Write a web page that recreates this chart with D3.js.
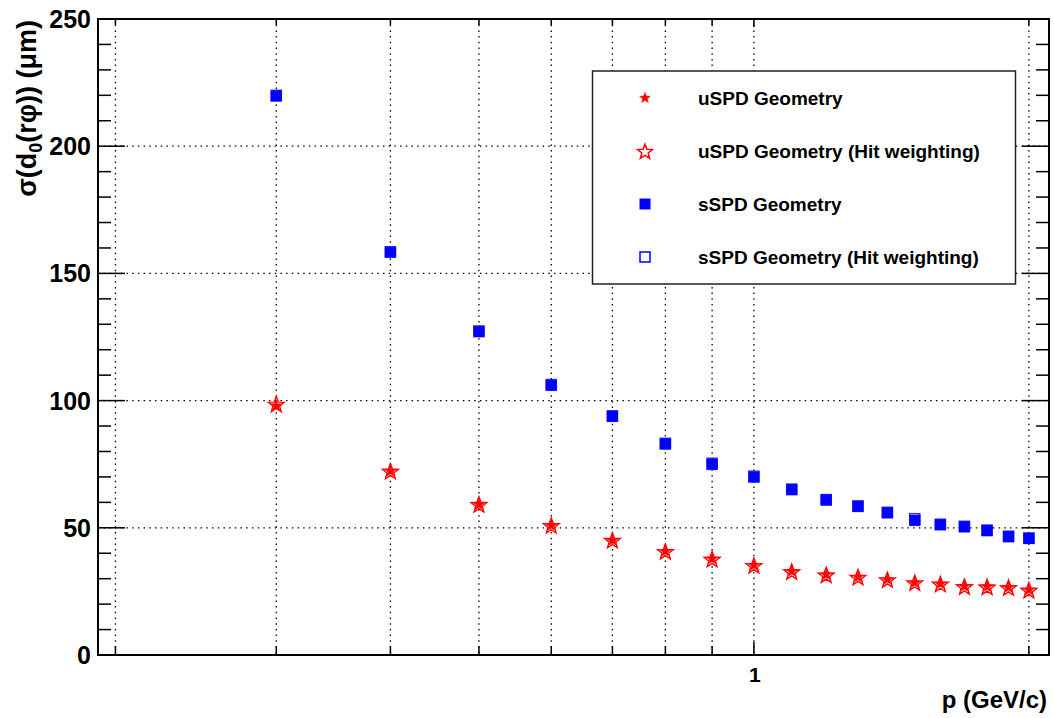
<!DOCTYPE html>
<html>
<head>
<meta charset="utf-8">
<script src="https://cdn.jsdelivr.net/npm/d3@7"></script>
<style>
  html, body { margin: 0; padding: 0; background: #fff; }
  svg { display: block; font-family: "Liberation Sans", Arial, Helvetica, sans-serif; font-weight: bold; }
</style>
</head>
<body>
<svg id="chart" width="1054" height="718"></svg>
<script>
// Track momentum (GeV/c)
const momentum = [0.3, 0.4, 0.5, 0.6, 0.7, 0.8, 0.9, 1.0, 1.1, 1.2, 1.3, 1.4, 1.5, 1.6, 1.7, 1.8, 1.9, 2.0];

// sigma(d0(r phi)) in micrometres
const uspd = [98.4, 72.6, 59.5, 51.2, 45.4, 41.1, 38.1, 35.6, 33.2, 31.9, 31.0, 30.0, 28.7, 28.3, 27.3, 27.2, 26.9, 25.9];
const uspdHit = [98.7, 72.4, 59.3, 51.0, 45.2, 40.8, 37.8, 35.3, 32.9, 31.6, 30.7, 29.7, 28.5, 28.0, 27.0, 26.9, 26.6, 25.6];
const sspd = [219.7, 158.3, 127.1, 106.0, 93.8, 82.9, 74.9, 69.9, 65.0, 60.9, 58.4, 55.9, 52.9, 51.2, 50.4, 48.9, 46.5, 45.8];
const sspdHit = [220.0, 158.5, 127.4, 106.3, 94.0, 83.2, 75.4, 70.3, 65.2, 61.1, 58.6, 56.1, 53.6, 51.4, 50.6, 49.1, 46.7, 46.0];

const seriesNames = ["uSPD Geometry", "uSPD Geometry (Hit weighting)", "sSPD Geometry", "sSPD Geometry (Hit weighting)"];

// Axis ticks
const xGridTicks = [0.2, 0.3, 0.4, 0.5, 0.6, 0.7, 0.8, 0.9, 1, 2];
const xLabelTicks = [1];
const yMajorTicks = [0, 50, 100, 150, 200, 250];
const yMinorTicks = [10, 20, 30, 40, 60, 70, 80, 90, 110, 120, 130, 140, 160, 170, 180, 190, 210, 220, 230, 240];

const frame = { left: 98, right: 1049, top: 19, bottom: 655 };
const svg = d3.select("#chart");

const x = d3.scaleLog().domain([0.1914, 2.104]).range([frame.left, frame.right]);
const y = d3.scaleLinear().domain([0, 250]).range([frame.bottom, frame.top]);

// Dotted grid
const grid = svg.append("g").attr("stroke", "#000").attr("stroke-width", 1.3).attr("stroke-dasharray", "1.5,4.2");
grid.selectAll(".gx").data(xGridTicks).join("line")
  .attr("x1", d => x(d)).attr("x2", d => x(d))
  .attr("y1", frame.top).attr("y2", frame.bottom);
grid.selectAll(".gy").data(yMajorTicks.filter(v => v > 0 && v < 250)).join("line")
  .attr("x1", frame.left).attr("x2", frame.right)
  .attr("y1", d => y(d)).attr("y2", d => y(d));

// Inward ticks on all four sides
const ticks = svg.append("g").attr("stroke", "#000").attr("stroke-width", 1.5);
function yTicks(values, len) {
  ticks.append("g").selectAll("line").data(values).join("line")
    .attr("x1", frame.left).attr("x2", frame.left + len)
    .attr("y1", d => y(d)).attr("y2", d => y(d));
  ticks.append("g").selectAll("line").data(values).join("line")
    .attr("x1", frame.right).attr("x2", frame.right - len)
    .attr("y1", d => y(d)).attr("y2", d => y(d));
}
yTicks(yMajorTicks, 27);
yTicks(yMinorTicks, 13);
ticks.append("g").selectAll("line").data(xGridTicks).join("line")
  .attr("x1", d => x(d)).attr("x2", d => x(d))
  .attr("y1", frame.bottom).attr("y2", d => frame.bottom - (d === 1 ? 13 : 9));
ticks.append("g").selectAll("line").data(xGridTicks).join("line")
  .attr("x1", d => x(d)).attr("x2", d => x(d))
  .attr("y1", frame.top).attr("y2", d => frame.top + (d === 1 ? 8 : 6));

// Tick labels
svg.append("g").selectAll("text").data(yMajorTicks).join("text")
  .attr("x", 91).attr("y", d => y(d) + 9)
  .attr("text-anchor", "end").attr("font-size", 25)
  .text(d => d);
svg.append("g").selectAll("text").data(xLabelTicks).join("text")
  .attr("x", d => x(d) + 1).attr("y", 682)
  .attr("text-anchor", "middle").attr("font-size", 21)
  .text(d => d);

// Axis titles
svg.append("text").attr("x", 1047).attr("y", 708).attr("text-anchor", "end")
  .attr("font-size", 24).text("p (GeV/c)");
const yt = svg.append("text").attr("text-anchor", "end").attr("font-size", 27)
  .attr("transform", "translate(36,20) rotate(-90)");
yt.append("tspan").text("σ(d");
yt.append("tspan").attr("font-size", 18).attr("dy", 6).text("0");
yt.append("tspan").attr("dy", -6).text("(rφ)) (μm)");

// Markers
function starPath(R) {
  const pts = [];
  for (let i = 0; i < 10; i++) {
    const r = i % 2 === 0 ? R : R * 0.42;
    const a = -Math.PI / 2 + i * Math.PI / 5;
    pts.push([r * Math.cos(a), r * Math.sin(a)]);
  }
  return "M" + pts.map(p => p[0].toFixed(2) + "," + p[1].toFixed(2)).join("L") + "Z";
}
const marks = svg.append("g");
function drawSeries(values, kind) {
  const g = marks.append("g");
  const pts = momentum.map((p, i) => [x(p), y(values[i])]);
  if (kind === "starFill" || kind === "starOpen") {
    g.selectAll("path").data(pts).join("path")
      .attr("d", starPath(kind === "starFill" ? 5.6 : 8.3))
      .attr("transform", d => `translate(${d[0]},${d[1] + 1})`)
      .attr("fill", kind === "starFill" ? "#ff0000" : "none")
      .attr("stroke", "#ff0000").attr("stroke-width", kind === "starFill" ? 0.6 : 1.4);
  } else {
    const s = kind === "sqFill" ? 11 : 10;
    g.selectAll("rect").data(pts).join("rect")
      .attr("x", d => d[0] - s / 2).attr("y", d => d[1] - s / 2)
      .attr("width", s).attr("height", s)
      .attr("fill", kind === "sqFill" ? "#0000ff" : "none")
      .attr("stroke", kind === "sqFill" ? "#3030ff" : "#0000ff")
      .attr("stroke-width", kind === "sqFill" ? 0.6 : 1.5)
      .attr("stroke-opacity", kind === "sqFill" ? 0.6 : 0.8);
  }
}
drawSeries(uspd, "starFill");
drawSeries(uspdHit, "starOpen");
drawSeries(sspd, "sqFill");
drawSeries(sspdHit, "sqOpen");

// Frame
svg.append("rect").attr("x", frame.left).attr("y", frame.top)
  .attr("width", frame.right - frame.left).attr("height", frame.bottom - frame.top)
  .attr("fill", "none").attr("stroke", "#000").attr("stroke-width", 2);

// Legend
const legend = svg.append("g");
legend.append("rect").attr("x", 592.5).attr("y", 71).attr("width", 423).attr("height", 213)
  .attr("fill", "#fff").attr("stroke", "#222").attr("stroke-width", 1.5);
const legendKinds = ["starFill", "starOpen", "sqFill", "sqOpen"];
const rowY = [98, 151, 204, 257];
seriesNames.forEach((name, i) => {
  const cx = 645, cy = rowY[i];
  const k = legendKinds[i];
  if (k === "starFill") {
    legend.append("path").attr("d", starPath(5.6)).attr("transform", `translate(${cx},${cy})`)
      .attr("fill", "#ff0000").attr("stroke", "#ff0000").attr("stroke-width", 0.5);
  } else if (k === "starOpen") {
    legend.append("path").attr("d", starPath(7.8)).attr("transform", `translate(${cx},${cy + 1})`)
      .attr("fill", "none").attr("stroke", "#ff0000").attr("stroke-width", 1.5);
  } else if (k === "sqFill") {
    legend.append("rect").attr("x", cx - 5.5).attr("y", cy - 5.5).attr("width", 11).attr("height", 11)
      .attr("fill", "#0000ff");
  } else {
    legend.append("rect").attr("x", cx - 5).attr("y", cy - 5).attr("width", 10).attr("height", 10)
      .attr("fill", "none").attr("stroke", "#0000ff").attr("stroke-width", 1.5);
  }
  legend.append("text").attr("x", 698).attr("y", cy + 7).attr("font-size", 19).text(name);
});
</script>
</body>
</html>
